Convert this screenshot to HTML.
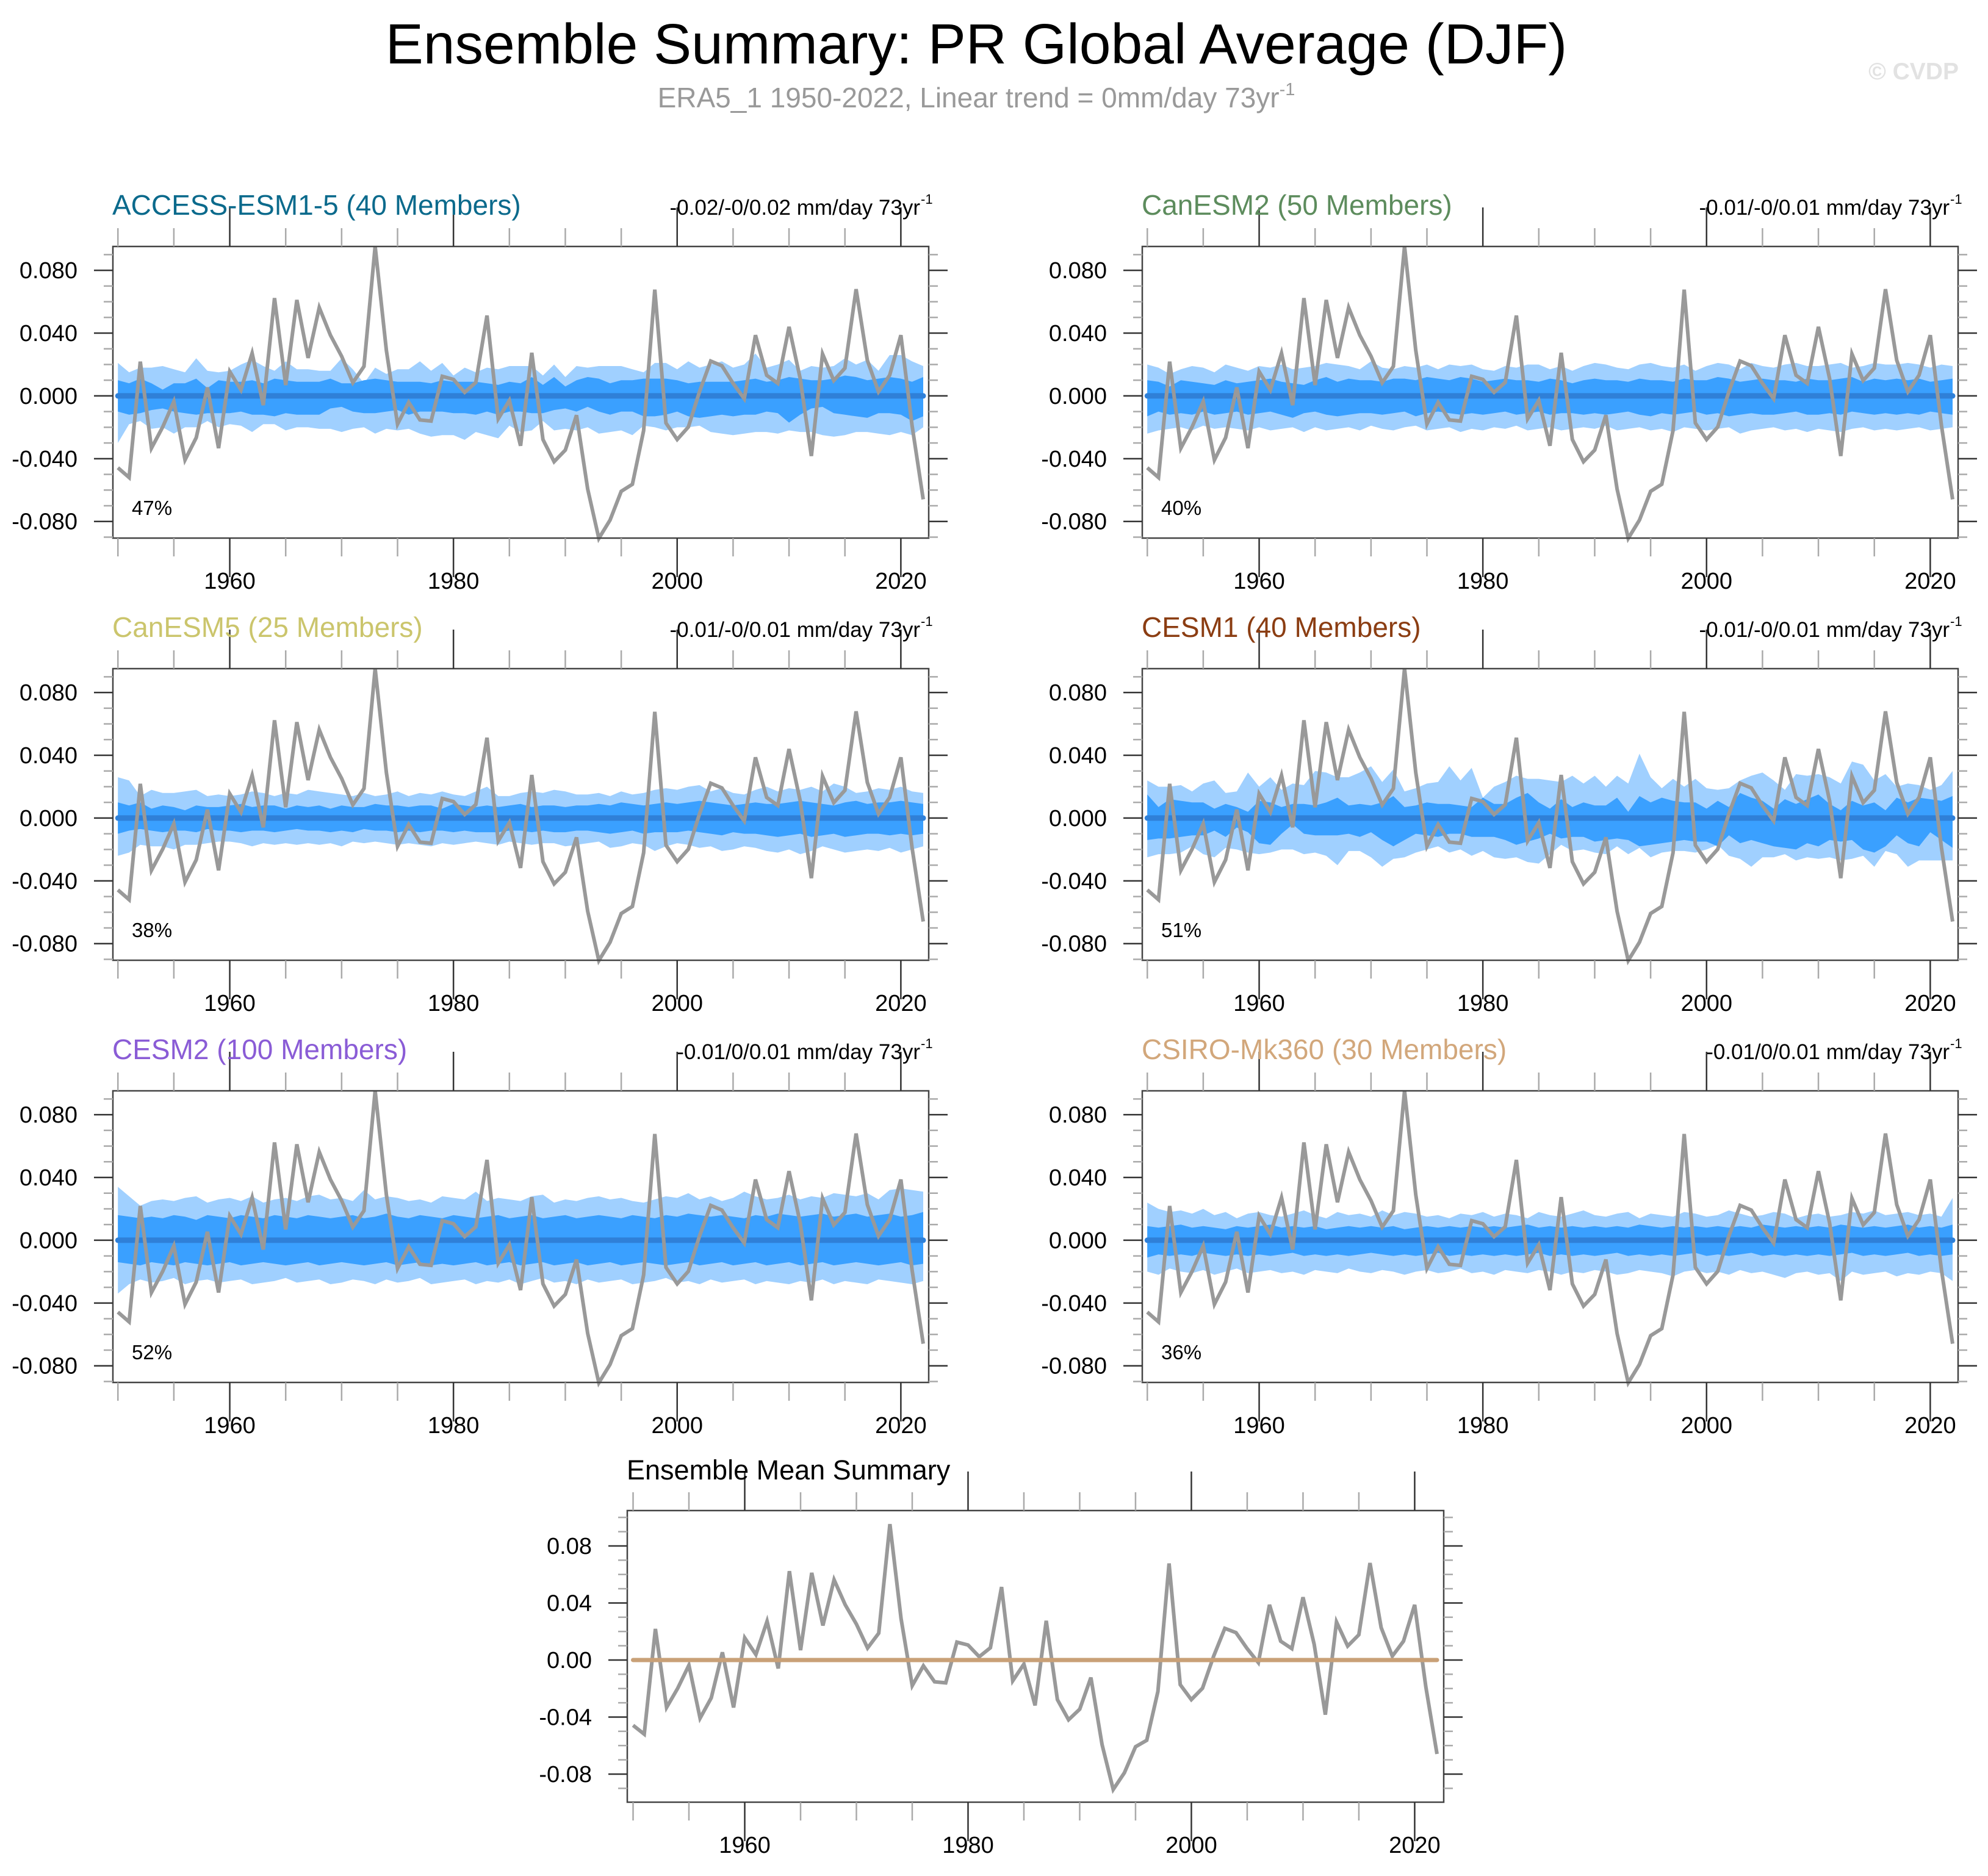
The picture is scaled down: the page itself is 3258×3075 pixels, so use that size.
<!DOCTYPE html>
<html><head><meta charset="utf-8"><title>Ensemble Summary: PR Global Average (DJF)</title>
<style>html,body{margin:0;padding:0;background:#fff;}svg{display:block;font-family:"Liberation Sans",sans-serif;}</style>
</head><body>
<svg id="chart" xmlns="http://www.w3.org/2000/svg" width="3258" height="3075" viewBox="0 0 3258 3075">
<text x="1600" y="104" font-size="93" text-anchor="middle" fill="#000">Ensemble Summary: PR Global Average (DJF)</text>
<text x="1600" y="176" font-size="46" text-anchor="middle" fill="#999">ERA5_1 1950-2022, Linear trend = 0mm/day 73yr<tspan font-size="29" dy="-20">-1</tspan></text>
<text x="3210" y="130" font-size="39" font-weight="bold" text-anchor="end" fill="#e2e2e2">© CVDP</text>
</svg>
<script>
// observed ERA5 DJF global-average PR anomaly (mm/day), 1950-2022
const firstYear = 1950;
const obs = [
-0.0458,-0.052,0.0218,-0.0333,-0.0198,-0.0036,-0.0408,-0.0266,0.0054,-0.0333,
0.0155,0.0038,0.0272,-0.0059,0.0623,0.0069,0.0611,0.0242,0.0563,0.0387,
0.0252,0.0084,0.0188,0.0953,0.029,-0.018,-0.0041,-0.0153,-0.016,0.0125,
0.0105,0.0023,0.0086,0.0512,-0.0146,-0.0029,-0.0318,0.0275,-0.0278,-0.0419,
-0.0345,-0.0123,-0.0593,-0.0908,-0.0791,-0.0608,-0.0563,-0.0221,0.0677,-0.0173,
-0.0278,-0.0198,0.0027,0.0222,0.0192,0.008,-0.0018,0.0387,0.0132,0.008,
0.044,0.011,-0.0383,0.0267,0.0098,0.0177,0.068,0.0227,0.0027,0.0132,
0.0387,-0.0188,-0.0659];
// ensemble-mean trend line endpoints (mm/day)
const ensMeanEnds = [0, 0];
// ensemble spread (thousandths of mm/day): uo=outer upper, ui=inner upper, li=inner lower mag, lo=outer lower mag
const p1_uo=[21,15,18,18,19,17,15,24,16,15,16,20,23,19,16,22,17,17,16,16,24,17,8,18,14,17,17,22,16,21,13,18,15,18,17,19,19,19,13,20,12,19,18,19,19,19,17,15,21,21,17,22,18,20,22,18,20,27,18,20,23,16,19,18,19,24,20,23,16,26,26,22,19];
const p1_ui=[10,8,11,8,4,8,8,11,5,10,9,9,10,8,11,10,9,9,9,11,8,8,10,11,10,9,9,9,8,10,9,9,9,8,7,9,8,12,7,12,6,10,12,11,8,10,10,11,11,11,10,8,9,9,9,9,10,11,9,10,12,11,10,10,11,13,12,10,11,12,11,9,12];
const p1_li=[10,12,11,9,8,10,11,12,11,11,11,10,12,12,13,11,12,12,12,8,7,10,11,11,10,9,12,10,10,10,11,11,12,10,12,10,10,11,11,9,8,10,7,10,12,10,10,13,13,12,10,13,14,13,12,13,12,12,10,11,17,12,8,7,11,12,13,14,11,11,12,16,13];
const p1_lo=[30,18,16,21,20,24,20,20,16,20,18,19,23,18,18,22,20,20,21,21,23,21,20,24,21,22,21,24,26,25,25,28,23,25,27,19,23,22,16,22,21,22,20,24,23,22,25,19,20,22,20,20,19,23,24,25,24,23,23,24,22,23,23,25,26,25,23,23,24,25,23,25,20];
const p2_uo=[20,18,14,17,19,18,15,20,18,16,19,18,20,17,18,19,21,20,19,17,22,18,17,19,18,20,17,20,19,20,17,16,19,18,20,20,17,19,16,19,21,20,18,17,20,21,19,18,20,16,19,21,20,17,21,19,18,20,21,19,19,20,21,18,19,21,20,20,21,20,18,20,19];
const p2_ui=[10,9,6,10,9,8,7,10,8,9,10,11,9,8,7,10,12,9,11,10,10,9,11,11,10,12,11,10,12,11,9,10,11,10,10,9,11,10,8,10,11,10,10,9,11,10,10,9,11,10,10,12,11,9,10,11,10,10,9,11,10,10,11,12,9,11,10,11,10,11,9,10,11];
const p2_li=[13,10,12,11,12,10,12,11,10,12,11,10,12,14,11,10,12,13,12,11,11,12,11,10,13,11,10,11,12,11,12,11,10,12,11,10,12,11,11,12,11,12,11,10,12,13,11,12,11,10,12,11,13,12,11,12,12,11,10,12,12,11,12,10,11,12,11,12,11,12,10,11,12];
const p2_lo=[24,22,21,20,22,19,21,20,21,22,20,22,21,20,23,20,22,21,20,22,19,21,22,20,19,22,21,20,23,21,22,20,21,19,22,21,20,22,21,20,21,19,22,21,20,22,21,23,20,21,22,21,20,24,22,21,20,22,21,23,21,22,23,21,20,22,21,22,21,20,22,21,20];
const p3_uo=[26,24,14,18,16,16,17,18,14,15,14,15,17,16,14,16,15,18,17,16,15,14,16,14,15,17,14,16,15,17,15,14,17,20,14,14,16,17,16,18,17,15,15,16,14,17,15,16,18,19,18,20,21,17,19,16,15,18,20,17,19,18,20,17,22,20,16,17,19,18,20,17,16];
const p3_ui=[10,8,10,6,8,7,5,8,7,7,8,9,7,8,8,6,8,7,8,6,8,7,7,9,8,8,7,8,8,6,9,8,7,8,7,8,9,7,8,8,7,8,8,9,8,10,9,8,9,10,9,10,11,10,9,8,9,10,9,9,10,11,10,9,8,10,11,9,10,10,11,10,9];
const p3_li=[10,8,7,8,9,8,8,9,7,8,8,9,8,8,9,8,7,8,8,9,8,9,7,8,8,9,8,9,8,8,9,8,9,9,9,8,8,9,8,9,9,8,8,9,10,9,8,10,9,9,9,8,9,10,11,9,10,10,11,12,11,10,12,11,10,12,11,10,10,11,10,11,10];
const p3_lo=[24,22,17,18,18,20,17,17,16,15,15,16,18,16,17,16,17,16,17,16,18,15,16,15,16,17,16,17,18,16,17,16,15,16,17,15,16,17,16,16,18,17,16,15,19,18,16,17,21,18,16,17,19,18,21,20,18,19,21,22,20,23,21,18,20,22,21,20,21,19,22,20,18];
const p4_uo=[24,20,20,21,17,22,24,16,17,29,20,26,18,22,21,30,29,26,26,29,33,23,31,17,19,22,23,33,24,32,13,20,23,27,25,25,24,23,27,22,27,20,27,22,41,26,19,25,20,25,19,18,19,24,27,29,24,18,28,27,28,26,22,36,34,24,28,20,22,21,18,21,30];
const p4_ui=[15,7,12,11,10,10,6,9,7,4,11,10,7,9,9,8,10,13,8,9,8,10,14,7,8,10,9,9,8,7,13,9,9,13,16,10,6,12,7,10,8,8,13,4,14,10,13,11,10,10,6,11,7,16,13,11,6,12,9,12,15,9,5,11,8,10,5,13,10,13,12,11,14];
const p4_li=[14,13,13,12,11,11,8,12,6,9,16,17,10,4,10,11,11,11,10,12,9,14,18,14,10,11,12,10,10,12,12,12,14,17,15,13,10,13,12,12,15,14,13,14,18,17,16,15,14,15,15,18,11,16,14,16,18,19,20,16,18,14,15,14,20,22,18,11,16,18,9,14,19];
const p4_lo=[25,23,23,22,18,23,25,19,20,22,23,22,20,20,23,22,24,30,21,21,25,31,26,25,22,20,18,22,20,24,21,25,26,25,28,29,23,17,21,20,22,23,18,23,19,25,22,21,21,22,20,17,24,26,31,25,25,23,27,25,26,25,27,26,24,31,21,23,31,27,27,27,27];
const p5_uo=[34,28,22,25,26,25,27,28,24,26,27,25,28,24,26,27,25,28,29,26,27,25,32,26,28,27,25,26,24,28,27,26,31,25,27,26,25,28,29,24,26,25,27,28,26,27,25,24,26,28,27,30,26,28,25,27,31,28,26,27,29,26,28,27,30,29,28,30,26,32,33,32,31];
const p5_ui=[16,15,14,15,14,16,15,13,16,15,14,16,15,14,16,15,14,16,15,14,15,16,14,15,17,15,14,16,15,14,16,15,14,15,16,14,15,16,14,15,16,14,15,16,15,14,16,15,14,16,15,17,16,15,16,15,14,16,15,17,16,15,16,17,15,16,17,15,16,17,15,16,18];
const p5_li=[14,15,16,14,15,16,14,15,16,15,14,16,15,14,15,16,15,14,16,15,14,15,16,15,14,16,15,14,16,15,16,15,14,16,15,14,16,15,14,16,15,14,16,15,14,16,15,14,15,16,15,14,16,15,14,16,15,14,16,15,14,16,15,14,16,15,14,15,16,15,14,16,15];
const p5_lo=[34,28,25,27,26,24,28,26,25,27,26,25,28,27,26,24,27,26,25,28,27,25,26,28,25,27,26,24,28,27,26,25,28,26,27,25,28,26,24,27,26,28,25,27,26,25,28,27,26,24,27,26,28,25,27,26,25,28,26,27,28,26,27,25,28,26,27,28,25,26,27,28,26];
const p6_uo=[24,20,18,19,17,20,16,18,14,17,18,16,15,17,19,16,14,18,16,17,15,19,16,18,17,15,16,14,17,16,18,15,17,16,14,18,16,15,17,19,16,15,17,18,14,17,16,15,18,17,15,16,19,17,15,16,18,17,14,16,17,15,16,18,17,19,16,17,18,16,17,15,27];
const p6_ui=[9,8,9,10,8,9,8,7,9,8,9,10,8,9,8,9,7,8,9,8,9,8,9,7,8,9,8,9,8,9,8,9,8,9,10,8,9,8,9,8,9,8,9,8,10,9,8,9,8,9,8,9,8,9,8,10,9,8,9,8,9,8,10,9,8,9,8,9,10,8,9,8,10];
const p6_li=[11,9,10,9,10,8,9,10,9,10,9,10,9,8,10,9,10,9,10,9,8,9,10,9,10,9,8,10,9,10,9,10,9,10,9,8,10,9,10,9,10,9,8,10,9,10,9,10,9,8,10,9,10,9,8,10,9,10,9,10,9,10,9,8,10,9,10,9,8,10,9,10,9];
const p6_lo=[20,22,18,20,21,19,22,20,18,21,20,19,21,20,22,19,20,21,18,20,21,19,20,22,20,19,21,20,18,21,20,22,19,20,21,19,20,22,20,21,19,20,22,21,19,20,21,23,20,19,21,20,22,19,21,20,22,24,21,20,22,21,26,20,22,21,20,23,21,22,20,21,26];
const panelTitles=["ACCESS-ESM1-5 (40 Members)","CanESM2 (50 Members)","CanESM5 (25 Members)","CESM1 (40 Members)","CESM2 (100 Members)","CSIRO-Mk360 (30 Members)"];
const panelTrends=["-0.02/-0/0.02","-0.01/-0/0.01","-0.01/-0/0.01","-0.01/-0/0.01","-0.01/0/0.01","-0.01/0/0.01"];
const panelPercents=["47%","40%","38%","51%","52%","36%"];
const yTicks=[-0.08,-0.04,0,0.04,0.08];
const yTickLabelsTop=["-0.080","-0.040","0.000","0.040","0.080"];
const yTickLabelsMean=["-0.08","-0.04","0.00","0.04","0.08"];
const xTicks=[1960,1980,2000,2020];

const NS="http://www.w3.org/2000/svg";
const svg=document.getElementById('chart');
function mk(tag,attrs,parent){const e=document.createElementNS(NS,tag);for(const k in attrs)e.setAttribute(k,attrs[k]);(parent||svg).appendChild(e);return e;}
const titleColors=["#0b6a8c","#5d8c5d","#cbc56c","#8b3d12","#8a5cd6","#d2a77b"];
const bands=[[p1_uo,p1_ui,p1_li,p1_lo],[p2_uo,p2_ui,p2_li,p2_lo],[p3_uo,p3_ui,p3_li,p3_lo],[p4_uo,p4_ui,p4_li,p4_lo],[p5_uo,p5_ui,p5_li,p5_lo],[p6_uo,p6_ui,p6_li,p6_lo]];

function drawFrame(g,L,T,W,H,xs,ys,xmin,xmax,ymin,ymax,labels,labelFs){
  for(let v=Math.ceil(ymin*100-1e-6);v<=Math.floor(ymax*100+1e-6);v++){
    const y=ys(v/100);const major=(v%4===0);const len=major?31:15;
    const tl=mk('line',{x1:L-len,x2:L,y1:y,y2:y,stroke:major?'#333':'#aaa','stroke-width':2.5},g);
    
    
    const tr=mk('line',{x1:L+W,x2:L+W+len,y1:y,y2:y,stroke:major?'#333':'#aaa','stroke-width':2.5},g);
    
    
  }
  for(let yr=1950;yr<=2020;yr+=5){
    const x=xs(yr);const major=(yr%20===0);const len=major?64:30;
    const tb=mk('line',{x1:x,x2:x,y1:T+H,y2:T+H+len,stroke:major?'#333':'#aaa','stroke-width':2.5},g);
    
    
    const tt=mk('line',{x1:x,x2:x,y1:T-len,y2:T,stroke:major?'#333':'#aaa','stroke-width':2.5},g);
    
    
  }
  yTicks.forEach((v,i)=>{
    const t=mk('text',{x:L-58,y:ys(v)+13,'font-size':labelFs,'text-anchor':'end',fill:'#000'},g);
    t.textContent=labels[i];
    
    
  });
  xTicks.forEach(yr=>{
    const t=mk('text',{x:xs(yr),y:T+H+83,'font-size':38,'text-anchor':'middle',fill:'#000'},g);
    t.textContent=String(yr);
    
    
  });
}

function obsLine(g,xs,ys){
  const pts=obs.map((v,i)=>xs(firstYear+i).toFixed(1)+','+ys(v).toFixed(1)).join(' ');
  const pl=mk('polyline',{points:pts,fill:'none',stroke:'#999','stroke-width':6,'stroke-linejoin':'miter'},g);
  
  
}

// six panels
const colL=[185,1872], rowT=[404,1096,1788], PW=1337, PH=478;
const yMinP=-0.0906, yMaxP=0.0952, xMinP=1949.55, xMaxP=2022.49;
for(let p=0;p<6;p++){
  const L=colL[p%2], T=rowT[Math.floor(p/2)];
  const g=mk('g',{});
  
  
  const xs=yr=>L+(yr-xMinP)/(xMaxP-xMinP)*PW;
  const ys=v=>T+(yMaxP-v)/(yMaxP-yMinP)*PH;
  const [uo,ui,li,lo]=bands[p];
  const n=obs.length;
  let outer=[],inner=[];
  for(let i=0;i<n;i++){outer.push(xs(firstYear+i).toFixed(1)+','+ys(uo[i]/1000).toFixed(1));inner.push(xs(firstYear+i).toFixed(1)+','+ys(ui[i]/1000).toFixed(1));}
  for(let i=n-1;i>=0;i--){outer.push(xs(firstYear+i).toFixed(1)+','+ys(-lo[i]/1000).toFixed(1));inner.push(xs(firstYear+i).toFixed(1)+','+ys(-li[i]/1000).toFixed(1));}
  const ob=mk('polygon',{points:outer.join(' '),fill:'#a0d0ff'},g);
  
  
  const ib=mk('polygon',{points:inner.join(' '),fill:'#3aa0ff'},g);
  
  
  const ml=mk('line',{x1:xs(firstYear),x2:xs(firstYear+n-1),y1:ys(ensMeanEnds[0]),y2:ys(ensMeanEnds[1]),stroke:'#2f80d8','stroke-width':9,'stroke-linecap':'round'},g);
  
  
  obsLine(g,xs,ys);
  const box=mk('rect',{x:L,y:T,width:PW,height:PH,fill:'none',stroke:'#444','stroke-width':2.5},g);
  
  
  drawFrame(g,L,T,PW,PH,xs,ys,xMinP,xMaxP,yMinP,yMaxP,yTickLabelsTop,38);
  const tt=mk('text',{x:L-1,y:T-52,'font-size':46,fill:titleColors[p]},g);
  tt.textContent=panelTitles[p];
  
  
  const an=mk('text',{x:L+PW-14,y:T-52,'font-size':35,'text-anchor':'end',fill:'#000'},g);
  an.textContent=panelTrends[p]+' mm/day 73yr';
  
  
  const sup=mk('text',{x:L+PW-13,y:T-70,'font-size':22,'text-anchor':'start',fill:'#000'},g);
  sup.textContent='-1';
  
  
  const pc=mk('text',{x:L+31,y:T+PH-38,'font-size':33,fill:'#000'},g);
  pc.textContent=panelPercents[p];
  
  
}

// ensemble mean summary
{
  const L=1028,T=2476,W=1338,H=478,yMin=-0.0997,yMax=0.1048,xMin=1949.48,xMax=2022.6;
  const g=mk('g',{});
  
  
  const xs=yr=>L+(yr-xMin)/(xMax-xMin)*W;
  const ys=v=>T+(yMax-v)/(yMax-yMin)*H;
  obsLine(g,xs,ys);
  const ml=mk('line',{x1:xs(firstYear),x2:xs(firstYear+obs.length-1),y1:ys(ensMeanEnds[0]),y2:ys(ensMeanEnds[1]),stroke:'#c9a077','stroke-width':7,'stroke-linecap':'round'},g);
  
  
  const box=mk('rect',{x:L,y:T,width:W,height:H,fill:'none',stroke:'#444','stroke-width':2.5},g);
  
  
  drawFrame(g,L,T,W,H,xs,ys,xMin,xMax,yMin,yMax,yTickLabelsMean,38);
  const tt=mk('text',{x:L-1,y:T-51,'font-size':45,fill:'#000'},g);
  tt.textContent='Ensemble Mean Summary';
  
  
}
</script>
</body></html>
